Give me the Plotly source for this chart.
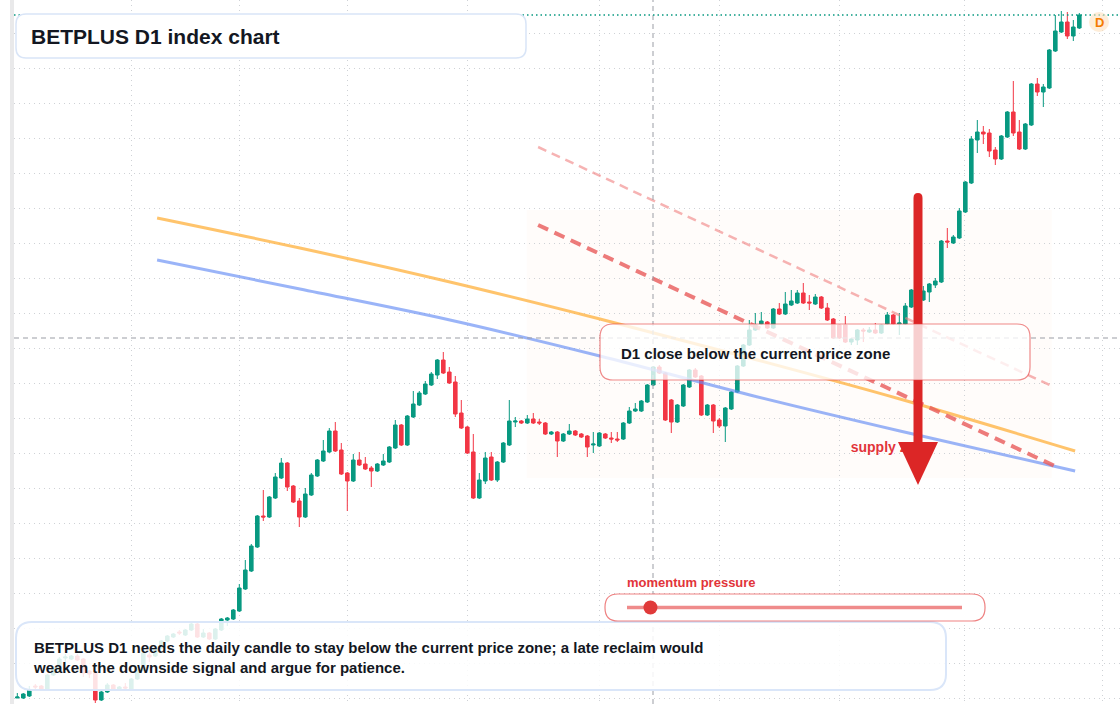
import plotly.graph_objects as go

W, H = 1120, 704
ML = 14

# ---------------- data (index points) ----------------
bar_index = list(range(178))
open_ = [302, 302, 304, 314, 314, 310, 325, 331, 342, 341, 344, 341, 329, 327, 300, 308, 315, 310, 313, 310,
         321, 330, 345, 344, 352, 359, 363, 368, 365, 370, 376, 363, 367, 361, 370, 380, 381, 389, 411, 429,
         453, 484, 483, 502, 522, 537, 514, 499, 483, 505, 524, 539, 548, 569, 550, 527, 519, 540, 536, 532,
         529, 535, 538, 552, 575, 555, 583, 595, 606, 615, 625, 640, 628, 618, 587, 573, 548, 502, 519, 543,
         520, 538, 555, 578, 579, 577, 581, 578, 577, 566, 568, 559, 566, 569, 566, 564, 555, 554, 566, 562,
         561, 561, 577, 589, 589, 598, 615, 633, 627, 600, 578, 594, 613, 630, 624, 585, 595, 580, 574, 591,
         608, 634, 655, 670, 676, 678, 672, 691, 686, 695, 697, 707, 698, 696, 703, 692, 681, 675, 675, 658,
         660, 670, 668, 670, 667, 676, 685, 676, 676, 693, 705, 700, 708, 715, 718, 759, 757, 762, 788, 817,
         860, 868, 867, 850, 841, 863, 888, 868, 851, 875, 916, 908, 912, 949, 968, 978, 964, 972]
high = [307, 307, 314, 316, 315, 326, 334, 343, 346, 345, 346, 342, 330, 328, 309, 317, 316, 314, 317, 322,
        331, 348, 348, 353, 360, 365, 367, 370, 371, 377, 377, 371, 368, 372, 382, 383, 391, 416, 440, 456,
        485, 510, 504, 527, 542, 538, 515, 502, 512, 527, 541, 560, 572, 578, 557, 528, 546, 548, 543, 534,
        537, 546, 554, 580, 576, 585, 609, 609, 619, 628, 641, 648, 633, 624, 600, 574, 566, 527, 548, 548,
        539, 558, 600, 583, 580, 585, 587, 581, 578, 569, 569, 567, 576, 570, 567, 565, 568, 568, 567, 568,
        568, 578, 593, 597, 600, 616, 634, 635, 628, 601, 596, 616, 631, 632, 625, 596, 596, 582, 593, 609,
        635, 656, 680, 687, 688, 679, 692, 697, 708, 710, 710, 717, 705, 706, 704, 697, 682, 676, 684, 662,
        671, 672, 673, 677, 676, 688, 686, 687, 697, 711, 715, 714, 717, 722, 760, 772, 765, 792, 819, 864,
        880, 874, 871, 853, 865, 889, 919, 880, 877, 917, 922, 916, 951, 985, 989, 988, 980, 987]
low = [302, 301, 303, 311, 309, 309, 324, 330, 338, 340, 339, 323, 322, 297, 299, 307, 309, 309, 310, 309,
       320, 329, 338, 343, 351, 358, 362, 365, 364, 369, 362, 362, 360, 360, 369, 374, 380, 388, 410, 428,
       452, 479, 482, 501, 521, 509, 497, 473, 482, 504, 523, 538, 547, 548, 525, 489, 518, 534, 530, 513,
       528, 534, 537, 551, 554, 554, 582, 594, 605, 614, 621, 626, 616, 583, 571, 546, 501, 501, 516, 519,
       518, 537, 554, 573, 576, 576, 576, 575, 565, 565, 543, 558, 565, 564, 562, 543, 547, 553, 561, 557,
       558, 560, 576, 588, 588, 597, 614, 626, 579, 567, 577, 593, 612, 622, 584, 584, 567, 572, 558, 590,
       607, 633, 654, 669, 675, 671, 671, 685, 685, 694, 696, 696, 690, 695, 691, 679, 661, 661, 657, 655,
       655, 658, 667, 666, 666, 675, 675, 665, 675, 692, 704, 699, 698, 712, 717, 752, 756, 761, 787, 816,
       847, 856, 843, 835, 840, 862, 864, 850, 850, 874, 904, 893, 911, 948, 967, 961, 959, 971]
close = [303, 306, 310, 313, 310, 325, 332, 341, 343, 344, 340, 327, 326, 300, 308, 315, 310, 313, 312, 321,
         330, 347, 343, 352, 359, 364, 366, 367, 370, 376, 363, 367, 361, 371, 381, 382, 390, 412, 430, 454,
         484, 483, 503, 523, 537, 513, 498, 483, 506, 525, 540, 549, 569, 549, 526, 519, 540, 535, 531, 529,
         536, 539, 553, 575, 555, 584, 596, 607, 616, 626, 640, 627, 617, 586, 572, 547, 502, 520, 542, 520,
         538, 557, 579, 579, 577, 581, 577, 577, 566, 568, 559, 566, 569, 565, 563, 553, 556, 567, 562, 561,
         560, 577, 589, 591, 599, 615, 633, 627, 580, 578, 595, 615, 630, 623, 585, 595, 579, 574, 592, 608,
         634, 655, 670, 675, 679, 672, 691, 686, 696, 699, 707, 697, 697, 703, 692, 680, 662, 662, 658, 661,
         670, 669, 670, 667, 675, 685, 676, 677, 694, 710, 711, 709, 716, 719, 759, 758, 763, 789, 818, 861,
         868, 866, 849, 841, 864, 888, 867, 851, 876, 916, 908, 913, 950, 969, 978, 964, 973, 985]

# two smoothed averages
avg_x = [23.3, 47.1, 72.1, 97.1, 122.1, 147.1, 176.3]
avg_slow = [782, 752, 718, 681, 642, 601, 549]     # orange
avg_fast = [740, 711, 680, 644, 605, 569, 529]     # blue

# descending trend lines
trend_main_x = [86.8, 172.9]
trend_main_y = [775, 534]
trend_upper_x = [86.8, 172.4]
trend_upper_y = [853, 614]

# supply zone band
zone_x = [84.9, 172.4]
zone_y = [522, 790]

grid_x = [19.1, 37, 55.1, 75.1, 97.1, 117.1, 137.1, 157.9, 180.9]
cross_x = 105.95
cross_y = 662
momentum_level = 0.07   # share of the pressure gauge

# ---------------- helpers for overlay decoration (pixel -> paper) ----------------
def px(x):
    return (x - ML) / (W - ML)


def py(y):
    return 1 - y / H


def rrect(x0, y0, x1, y1, r):
    pts = [
        ("M", [(x0 + r, y0)]), ("L", [(x1 - r, y0)]), ("Q", [(x1, y0), (x1, y0 + r)]),
        ("L", [(x1, y1 - r)]), ("Q", [(x1, y1), (x1 - r, y1)]), ("L", [(x0 + r, y1)]),
        ("Q", [(x0, y1), (x0, y1 - r)]), ("L", [(x0, y0 + r)]), ("Q", [(x0, y0), (x0 + r, y0)]),
    ]
    s = ""
    for cmd, pp in pts:
        s += cmd + " " + " ".join(f"{px(a):.5f},{py(b):.5f}" for a, b in pp) + " "
    return s + "Z"


def poly(points):
    return "M " + " L ".join(f"{px(a):.5f},{py(b):.5f}" for a, b in points) + " Z"


GREEN = "#089981"
RED = "#F23645"
FONT = "Liberation Sans, Arial, sans-serif"
DARK = "#131722"

fig = go.Figure()

fig.add_trace(go.Candlestick(
    x=bar_index, open=open_, high=high, low=low, close=close,
    increasing=dict(line=dict(color=GREEN, width=1), fillcolor=GREEN),
    decreasing=dict(line=dict(color=RED, width=1), fillcolor=RED),
    whiskerwidth=0, hoverinfo="skip", showlegend=False,
))

fig.add_trace(go.Scatter(x=avg_x, y=avg_slow, mode="lines", line=dict(color="rgba(255,176,59,0.75)", width=3, shape="spline"),
                         hoverinfo="skip", showlegend=False))
fig.add_trace(go.Scatter(x=avg_x, y=avg_fast, mode="lines", line=dict(color="rgba(100,140,245,0.65)", width=3, shape="spline"),
                         hoverinfo="skip", showlegend=False))
fig.add_trace(go.Scatter(x=trend_upper_x, y=trend_upper_y, mode="lines",
                         line=dict(color="rgba(240,128,128,0.6)", width=2.5, dash="9px,6px"),
                         hoverinfo="skip", showlegend=False))
fig.add_trace(go.Scatter(x=trend_main_x, y=trend_main_y, mode="lines",
                         line=dict(color="rgba(232,90,90,0.8)", width=4, dash="11px,7px"),
                         hoverinfo="skip", showlegend=False))
fig.add_trace(go.Scatter(x=[138.9], y=[552], mode="text", text=["<b>supply zone</b>"],
                         textposition="middle right",
                         textfont=dict(family=FONT, size=14, color="#e2343a"),
                         hoverinfo="skip", showlegend=False))

shapes = []
# zone band behind everything
shapes.append(dict(type="rect", xref="x", yref="y", x0=zone_x[0], x1=zone_x[1], y0=zone_y[0], y1=zone_y[1],
                   fillcolor="rgba(255,200,150,0.05)", line=dict(width=0), layer="below"))
# left strip
shapes.append(dict(type="rect", xref="paper", yref="paper", x0=px(10), x1=px(14), y0=0, y1=1,
                   fillcolor="#e9e9ea", line=dict(width=0), layer="above"))
# crosshair + last price line
shapes.append(dict(type="line", xref="x", yref="paper", x0=cross_x, x1=cross_x, y0=0, y1=1,
                   line=dict(color="#9a9da5", width=1, dash="5px,4px"), layer="above"))
shapes.append(dict(type="line", xref="paper", yref="y", x0=0, x1=1, y0=cross_y, y1=cross_y,
                   line=dict(color="#9a9da5", width=1, dash="5px,4px"), layer="above"))
shapes.append(dict(type="line", xref="paper", yref="y", x0=0, x1=1, y0=close[-1], y1=close[-1],
                   line=dict(color=GREEN, width=1.5, dash="1.5px,3px"), layer="above"))
# big arrow
shaft = (f"M {px(913.5):.5f},{py(446):.5f} L {px(913.5):.5f},{py(198):.5f} "
         f"Q {px(913.5):.5f},{py(193):.5f} {px(918):.5f},{py(193):.5f} "
         f"Q {px(922.5):.5f},{py(193):.5f} {px(922.5):.5f},{py(198):.5f} "
         f"L {px(922.5):.5f},{py(446):.5f} Z")
shapes.append(dict(type="path", xref="paper", yref="paper", path=shaft, fillcolor="#dc2626",
                   line=dict(width=0), layer="above"))
shapes.append(dict(type="path", xref="paper", yref="paper", path=poly([(898, 442), (938, 442), (918, 485)]),
                   fillcolor="#dc2626", line=dict(width=0), layer="above"))
# call-out box
shapes.append(dict(type="path", xref="paper", yref="paper", path=rrect(600, 324, 1030, 380, 13),
                   fillcolor="rgba(255,255,255,0.78)", line=dict(color="rgba(229,62,62,0.6)", width=1.2),
                   layer="above"))
# title box
shapes.append(dict(type="path", xref="paper", yref="paper", path=rrect(16, 14, 526, 58, 10),
                   fillcolor="#ffffff", line=dict(color="#d9e5f7", width=1.5), layer="above"))
# bottom note box
shapes.append(dict(type="path", xref="paper", yref="paper", path=rrect(16, 622, 946, 690, 16),
                   fillcolor="rgba(255,255,255,0.86)", line=dict(color="#dae6f9", width=2), layer="above"))
# momentum gauge
shapes.append(dict(type="path", xref="paper", yref="paper", path=rrect(605, 594, 985, 621, 13),
                   fillcolor="#ffffff", line=dict(color="rgba(229,62,62,0.65)", width=1.2), layer="above"))
g0, g1 = 627, 962
shapes.append(dict(type="line", xref="paper", yref="paper", x0=px(g0), x1=px(g1), y0=py(607.5), y1=py(607.5),
                   line=dict(color="rgba(234,100,100,0.75)", width=3.5), layer="above"))
dotx = g0 + momentum_level * (g1 - g0)
shapes.append(dict(type="circle", xref="paper", yref="paper", x0=px(dotx - 7), x1=px(dotx + 7),
                   y0=py(614.5), y1=py(600.5), fillcolor="#e03a3a", line=dict(width=0), layer="above"))
# D badge
shapes.append(dict(type="circle", xref="paper", yref="paper", x0=px(1089), x1=px(1109), y0=py(32), y1=py(12),
                   fillcolor="rgba(253,225,190,0.6)", line=dict(width=0), layer="above"))

annotations = [
    dict(xref="paper", yref="paper", x=px(29), y=py(36), xanchor="left", yanchor="middle",
         text="<b>BETPLUS D1 index chart</b>", showarrow=False,
         font=dict(family=FONT, size=21, color=DARK)),
    dict(xref="paper", yref="paper", x=px(619), y=py(353), xanchor="left", yanchor="middle",
         text="<b>D1 close below the current price zone</b>", showarrow=False,
         font=dict(family=FONT, size=15, color=DARK)),
    dict(xref="paper", yref="paper", x=px(625), y=py(582), xanchor="left", yanchor="middle",
         text="<b>momentum pressure</b>", showarrow=False,
         font=dict(family=FONT, size=13, color="#e2343a")),
    dict(xref="paper", yref="paper", x=px(31), y=py(657), xanchor="left", yanchor="middle", align="left",
         text="<b>BETPLUS D1 needs the daily candle to stay below the current price zone; a late reclaim would<br>"
              "weaken the downside signal and argue for patience.</b>", showarrow=False,
         font=dict(family=FONT, size=15, color=DARK)),
    dict(xref="paper", yref="paper", x=px(1099), y=py(22), xanchor="center", yanchor="middle",
         text="<b>D</b>", showarrow=False, font=dict(family=FONT, size=13, color="#f57c00")),
]

fig.update_layout(
    width=W, height=H,
    margin=dict(l=ML, r=0, t=0, b=0),
    paper_bgcolor="#ffffff", plot_bgcolor="#ffffff",
    showlegend=False, hovermode=False,
    boxgap=0.15,
    shapes=shapes, annotations=annotations,
    xaxis=dict(range=[-0.55, 183.78], tickvals=grid_x, showticklabels=False, ticks="",
               showgrid=True, gridcolor="#cfd2d6", griddash="1px,4px", gridwidth=1,
               zeroline=False, showline=False, rangeslider=dict(visible=False), fixedrange=True),
    yaxis=dict(range=[296, 1000], tick0=302, dtick=35, showticklabels=False, ticks="",
               showgrid=True, gridcolor="#cfd2d6", griddash="1px,4px", gridwidth=1,
               zeroline=False, showline=False, fixedrange=True),
)

fig.write_html("out.html")
